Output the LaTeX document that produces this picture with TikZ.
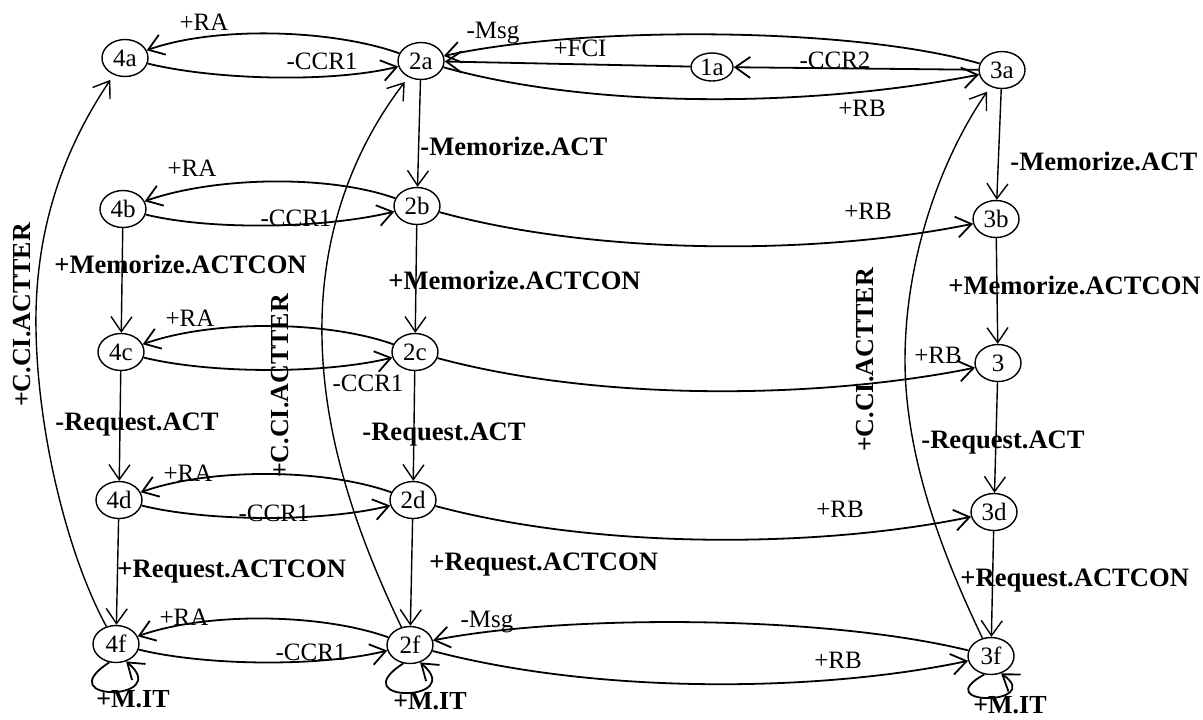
\documentclass[tikz,border=0pt]{standalone}
\usepackage{fontspec}
\setmainfont{Liberation Serif}
\usetikzlibrary{arrows.meta,shapes.geometric}
\begin{document}
\begin{tikzpicture}[x=0.5pt,y=-0.5pt,
  stnode/.style={draw, ellipse, line width=0.7pt, minimum width=23pt, minimum height=18.5pt,
                 inner sep=0pt, font=\fontsize{12.5}{12.5}\selectfont},
  smallnode/.style={stnode, minimum width=21pt, minimum height=14pt},
  hedge/.style={line width=0.9pt, -{Straight Barb[length=7.5pt,width=10.5pt]}},
  vline/.style={line width=0.7pt, -{Straight Barb[length=7.5pt,width=10.5pt]}},
  longarc/.style={line width=0.7pt, -{Straight Barb[length=7.5pt,width=10.5pt]}, shorten >=3pt},
  plainlbl/.style={inner sep=0pt, font=\fontsize{12.5}{12.5}\selectfont},
  boldlbl/.style={inner sep=0pt, anchor=west, font=\bfseries\fontsize{13.3}{13.3}\selectfont},
  mitlbl/.style={inner sep=0pt, font=\bfseries\fontsize{13}{13}\selectfont},
  sidelbl/.style={inner sep=0pt, rotate=90, font=\bfseries\fontsize{13}{13}\selectfont},
]
\useasboundingbox (0,0) rectangle (1203,719);

% states
\node[stnode] (n4a) at (125,58) {4a};
\node[stnode] (n2a) at (421,61) {2a};
\node[smallnode] (n1a) at (712,67) {1a};
\node[stnode] (n3a) at (1002,70) {3a};
\node[stnode] (n4b) at (123,209) {4b};
\node[stnode] (n2b) at (417,206) {2b};
\node[stnode] (n3b) at (996,219) {3b};
\node[stnode] (n4c) at (121,352) {4c};
\node[stnode] (n2c) at (415,352) {2c};
\node[stnode] (n3c) at (998,363) {3};
\node[stnode] (n4d) at (119,500) {4d};
\node[stnode] (n2d) at (413,500) {2d};
\node[stnode] (n3d) at (994,512) {3d};
\node[stnode] (n4f) at (116,644) {4f};
\node[stnode] (n2f) at (410,645) {2f};
\node[stnode] (n3f) at (991,656) {3f};

% row a
\draw[hedge] (n2a) .. controls (331,29) and (215,26) .. (n4a);
\draw[hedge] (n4a) .. controls (215,80) and (331,83) .. (n2a);
\draw[hedge] (n3a) .. controls (850,26) and (580,26) .. (n2a);
\draw[hedge] (n1a) -- (n2a);
\draw[hedge] (n3a) -- (n1a);
\draw[hedge] (n2a) .. controls (600,111) and (820,106) .. (n3a);
% row b
\draw[hedge] (n2b) .. controls (327,174) and (213,177) .. (n4b);
\draw[hedge] (n4b) .. controls (213,231) and (327,228) .. (n2b);
\draw[hedge] (n2b) .. controls (600,256) and (820,255) .. (n3b);
% row c
\draw[hedge] (n2c) .. controls (325,320) and (211,320) .. (n4c);
\draw[hedge] (n4c) .. controls (211,374) and (325,374) .. (n2c);
\draw[hedge] (n2c) .. controls (600,402) and (820,399) .. (n3c);
% row d
\draw[hedge] (n2d) .. controls (323,468) and (209,468) .. (n4d);
\draw[hedge] (n4d) .. controls (209,522) and (323,522) .. (n2d);
\draw[hedge] (n2d) .. controls (600,550) and (820,548) .. (n3d);
% row f
\draw[hedge] (n2f) .. controls (320,613) and (206,612) .. (n4f);
\draw[hedge] (n4f) .. controls (206,666) and (320,667) .. (n2f);
\draw[hedge] (n3f) .. controls (820,614) and (560,615) .. (n2f);
\draw[hedge] (n2f) .. controls (600,695) and (820,692) .. (n3f);

% self loops
\draw[hedge] (n4f.250) .. controls +(-62,40) and +(48,40) .. (n4f.300);
\draw[hedge] (n2f.250) .. controls +(-62,40) and +(48,40) .. (n2f.300);
\draw[hedge] (n3f.250) .. controls +(-58,32) and +(45,32) .. (n3f.300);

% vertical transitions
\draw[vline] (n4b) -- (n4c);
\draw[vline] (n4c) -- (n4d);
\draw[vline] (n4d) -- (n4f);
\draw[vline] (n2a) -- (n2b);
\draw[vline] (n2b) -- (n2c);
\draw[vline] (n2c) -- (n2d);
\draw[vline] (n2d) -- (n2f);
\draw[vline] (n3a) -- (n3b);
\draw[vline] (n3b) -- (n3c);
\draw[vline] (n3c) -- (n3d);
\draw[vline] (n3d) -- (n3f);

% long return arcs
\draw[longarc] (n4f) .. controls (70,560) and (38,440) .. (36,330)
                     .. controls (34,220) and (70,140) .. (n4a);
\draw[longarc] (n2f) .. controls (350,520) and (320,420) .. (322,320)
                     .. controls (324,220) and (360,140) .. (n2a);
\draw[longarc] (n3f) .. controls (945,560) and (905,460) .. (905,360)
                     .. controls (905,260) and (940,160) .. (n3a);

% labels of horizontal transitions
\node[plainlbl] (la1) at (204,22) {+RA};
\node[plainlbl] (la2) at (322,61) {-CCR1};
\node[plainlbl] (la3) at (493,33) {-Msg};
\node[plainlbl] (la4) at (580,48) {+FCI};
\node[plainlbl] (la5) at (835,60) {-CCR2};
\node[plainlbl] (la6) at (862,108) {+RB};
\node[plainlbl] (lb1) at (192,168) {+RA};
\node[plainlbl] (lb2) at (296,218) {-CCR1};
\node[plainlbl] (lb3) at (868,211) {+RB};
\node[plainlbl] (lc1) at (190,318) {+RA};
\node[plainlbl] (lc2) at (368,383) {-CCR1};
\node[plainlbl] (lc3) at (938,355) {+RB};
\node[plainlbl] (ld1) at (188,473) {+RA};
\node[plainlbl] (ld2) at (274,513) {-CCR1};
\node[plainlbl] (ld3) at (840,509) {+RB};
\node[plainlbl] (lf1) at (184,617) {+RA};
\node[plainlbl] (lf2) at (311,652) {-CCR1};
\node[plainlbl] (lf3) at (487,622) {-Msg};
\node[plainlbl] (lf4) at (838,660) {+RB};

% loop labels
\node[mitlbl] (lm1) at (133,699) {+M.IT};
\node[mitlbl] (lm2) at (430,701) {+M.IT};
\node[mitlbl] (lm3) at (1010,705) {+M.IT};

% labels of vertical transitions
\node[boldlbl] (v1) at (54,264) {+Memorize.ACTCON};
\node[boldlbl] (v2) at (55,425) {-Request.ACT};
\node[boldlbl] (v3) at (117,572) {+Request.ACTCON};
\node[boldlbl] (v4) at (420,146) {-Memorize.ACT};
\node[boldlbl] (v5) at (388,280) {+Memorize.ACTCON};
\node[boldlbl] (v6) at (362,435) {-Request.ACT};
\node[boldlbl] (v7) at (429,565) {+Request.ACTCON};
\node[boldlbl] (v8) at (1010,161) {-Memorize.ACT};
\node[boldlbl] (v9) at (948,285) {+Memorize.ACTCON};
\node[boldlbl] (v10) at (921,443) {-Request.ACT};
\node[boldlbl] (v11) at (960,581) {+Request.ACTCON};

% labels of the long return arcs
\node[sidelbl] (s1) at (22,315) {+C.CI.ACTTER};
\node[sidelbl] (s2) at (280,386) {+C.CI.ACTTER};
\node[sidelbl] (s3) at (865,360) {+C.CI.ACTTER};
\end{tikzpicture}
\end{document}
